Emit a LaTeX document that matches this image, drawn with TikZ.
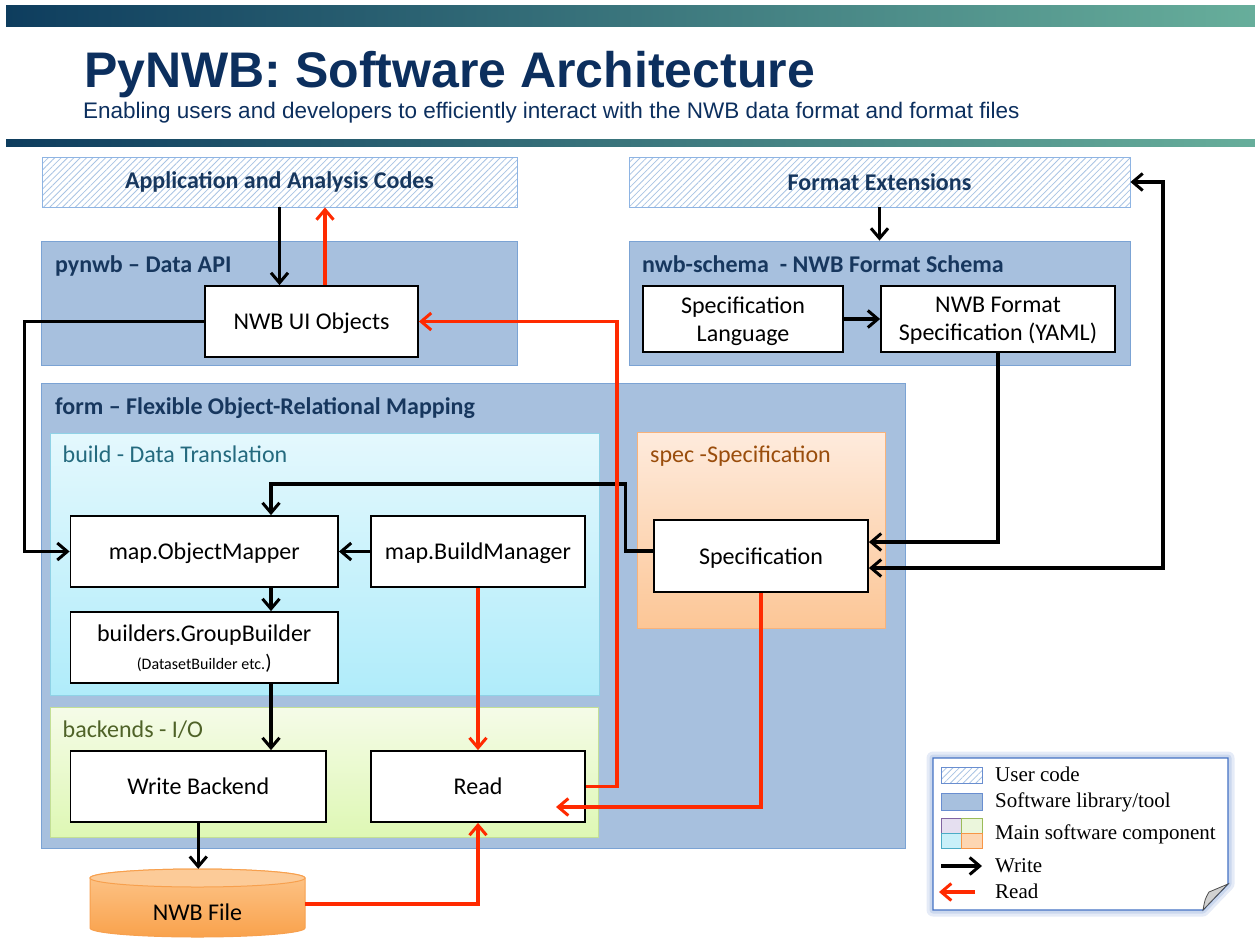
\documentclass[tikz,border=0pt]{standalone}
\usepackage{fontspec}
\setmainfont{Carlito}
\newfontfamily\arialf{Liberation Sans}
\newfontfamily\timesf{Liberation Serif}
\usetikzlibrary{arrows.meta,patterns.meta,calc}
\definecolor{navy}{HTML}{17375E}
\definecolor{titlec}{HTML}{0C2F5E}
\definecolor{barL}{HTML}{0E3D5E}
\definecolor{barR}{HTML}{67AE9B}
\definecolor{libf}{HTML}{A7C0DE}
\definecolor{libb}{HTML}{7BA3D4}
\definecolor{hatch}{HTML}{A9C4E4}
\definecolor{userb}{HTML}{8EB4E3}
\definecolor{buildT}{HTML}{E4F8FD}
\definecolor{buildB}{HTML}{B0ECFA}
\definecolor{buildb}{HTML}{8FD2E6}
\definecolor{buildc}{HTML}{246A7E}
\definecolor{specT}{HTML}{FEEBDD}
\definecolor{specB}{HTML}{FCC696}
\definecolor{specb}{HTML}{F8B27A}
\definecolor{specc}{HTML}{9A4D0C}
\definecolor{backT}{HTML}{F5FBE8}
\definecolor{backB}{HTML}{DEF8B4}
\definecolor{backb}{HTML}{C3DF95}
\definecolor{backc}{HTML}{4F6228}
\definecolor{redc}{HTML}{FF2A00}
\definecolor{cylT}{HTML}{FDC68C}
\definecolor{cylB}{HTML}{F9A24C}
\definecolor{cylTop}{HTML}{FCCB98}
\definecolor{cylb}{HTML}{F7A04E}
\definecolor{legb}{HTML}{4472C4}
\definecolor{qpf}{HTML}{E5DFF0}
\definecolor{qpb}{HTML}{8064A2}
\definecolor{qgf}{HTML}{EBF6DC}
\definecolor{qgb}{HTML}{9BBB59}
\definecolor{qcf}{HTML}{C9F0F9}
\definecolor{qcb}{HTML}{4BACC6}
\definecolor{qof}{HTML}{FDD6B2}
\definecolor{qob}{HTML}{F79646}
\tikzset{
  lib/.style={draw=libb, line width=0.8pt, fill=libf, inner sep=0pt},
  user/.style={draw=userb, line width=0.8pt, preaction={fill=white},
    pattern={Lines[angle=45,distance=4.5pt,line width=0.8pt]}, pattern color=hatch,
    inner sep=0pt, text=navy, font=\bfseries\fontsize{24}{28}\selectfont},
  comp/.style={draw=black, line width=1.8pt, fill=white, align=center,
    font=\fontsize{24}{28}\selectfont, inner sep=0pt, text depth=0pt},
  hdr/.style={anchor=base west, inner sep=0pt, text=navy, font=\bfseries\fontsize{24}{28}\selectfont},
  sub/.style={anchor=base west, inner sep=0pt, font=\fontsize{24}{28}\selectfont},
  leg/.style={anchor=base west, inner sep=0pt, font=\timesf\fontsize{21}{24}\selectfont},
  tip/.tip={Straight Barb[length=10pt,width=17pt,line width=3pt]},
  wa/.style={black, line width=3.2pt, -tip},
  wab/.style={black, line width=3.2pt, tip-tip},
  ra/.style={redc, line width=3.2pt, -tip},
}
\begin{document}
\begin{tikzpicture}[x=1pt,y=-1pt]
\useasboundingbox (0,0) rectangle (1255,938);
% header bars
\shade[left color=barL, right color=barR] (6,5) rectangle (1255,26);
\shade[left color=barL, right color=barR] (6,139) rectangle (1255,146);
\node[anchor=base west, inner sep=0pt, font=\arialf\bfseries\fontsize{50}{60}\selectfont, text=titlec] (title) at (84,87) {PyNWB: Software Architecture};
\node[anchor=base west, inner sep=0pt, font=\arialf\fontsize{22.5}{26}\selectfont, text=titlec] (subtitle) at (83,118) {Enabling users and developers to efficiently interact with the NWB data format and format files};

% user code boxes
\node[user, minimum width=475pt, minimum height=50pt] (app) at (279.5,182) {Application and Analysis Codes};
\node[user, minimum width=501pt, minimum height=50pt] (fmtext) at (879.5,182) {Format Extensions};

% libraries
\node[lib, minimum width=476pt, minimum height=124pt] (pynwb) at (279,303) {};
\node[lib, minimum width=501pt, minimum height=124pt] (schema) at (879.5,303) {};
\node[lib, minimum width=864pt, minimum height=465pt] (form) at (473,615.5) {};
\node[draw=buildb, line width=0.8pt, top color=buildT, bottom color=buildB, inner sep=0pt, minimum width=549pt, minimum height=262pt] (build) at (324.5,564) {};
\node[draw=specb, line width=0.8pt, top color=specT, bottom color=specB, inner sep=0pt, minimum width=248pt, minimum height=196pt] (spec) at (761,530) {};
\node[draw=backb, line width=0.8pt, top color=backT, bottom color=backB, inner sep=0pt, minimum width=548pt, minimum height=130pt] (backends) at (324,772) {};

% labels
\node[hdr] (pynwbl) at (55,272) {pynwb – Data API};
\node[hdr] (schemal) at (642,272) {nwb-schema\ \ - NWB Format Schema};
\node[hdr] (forml) at (55,414) {form – Flexible Object-Relational Mapping};
\node[sub, text=buildc] (buildl) at (62.5,462) {build - Data Translation};
\node[sub, text=specc] (specl) at (650,462) {spec -Specification};
\node[sub, text=backc] (backl) at (62.5,737) {backends - I/O};

% components
\node[comp, minimum width=213pt, minimum height=71pt] (ui) at (311.5,321.5) {NWB UI Objects};
\node[comp, minimum width=200pt, minimum height=66pt] (speclang) at (743,319) {Specification\\Language};
\node[comp, minimum width=234pt, minimum height=66pt] (nwbspec) at (998,319) {NWB Format\\Specification (YAML)};
\node[comp, minimum width=267.5pt, minimum height=71pt] (om) at (204.25,551.5) {map.ObjectMapper};
\node[comp, minimum width=214pt, minimum height=71pt] (bm) at (478,551.5) {map.BuildManager};
\node[comp, minimum width=267.5pt, minimum height=71pt] (gb) at (204.25,647.5) {builders.GroupBuilder\\{\fontsize{16}{16}\selectfont(DatasetBuilder etc.}{\fontsize{21}{21}\selectfont)}};
\node[comp, minimum width=255.5pt, minimum height=71pt] (wb) at (198.25,786.5) {Write Backend};
\node[comp, minimum width=214pt, minimum height=71pt] (rd) at (478,786.5) {Read};
\node[comp, minimum width=214pt, minimum height=72pt] (specn) at (761,556) {Specification};

% NWB file cylinder
\path[top color=cylT, bottom color=cylB, draw=cylb, line width=1pt]
  (90,878) -- (90,928) arc[start angle=180,end angle=360,x radius=107.5pt,y radius=9pt]
  -- (305,878) arc[start angle=0,end angle=180,x radius=107.5pt,y radius=9pt] -- cycle;
\path[fill=cylTop, draw=cylb, line width=1pt] (197.5,878) ellipse[x radius=107.5pt, y radius=9pt];
\node[inner sep=0pt, minimum width=215pt, minimum height=86pt, text depth=0pt, font=\fontsize{24}{28}\selectfont] (file) at (197.5,912) {NWB File};

% write connectors
\draw[wa] (app.south) -- (app.south |- ui.north);
\draw[wa] (fmtext.south) -- (schema.north);
\draw[wa] (speclang.east) -- (nwbspec.west);
\draw[wa] (ui.west) -- ++(-180,0) |- (om.west);
\draw[wa] (nwbspec.south) |- ([yshift=14pt]specn.east);
\draw[wab] ([yshift=-12pt]specn.east) -- ++(294,0) |- (fmtext.east);
\draw[wa] ([yshift=5pt]specn.west) -- ++(-28,0) -- ++(0,-67) -| ([xshift=66.75pt]om.north);
\draw[wa] (bm.west) -- (om.east);
\draw[wa] ([xshift=66.75pt]om.south) -- ([xshift=66.75pt]gb.north);
\draw[wa] ([xshift=66.75pt]gb.south) -- ([xshift=66.75pt]gb.south |- wb.north);
\draw[wa] (wb.south) -- (wb.south |- file.north);

% read connectors
\draw[ra] ([xshift=13.5pt]ui.north) -- ([xshift=13.5pt]ui.north |- app.south);
\draw[ra] (rd.east) -- ++(31,0) |- (ui.east);
\draw[ra] (bm.south) -- (rd.north);
\draw[ra] (specn.south) |- ([shift={(78pt,-20.5pt)}]rd.center);
\draw[ra] ([yshift=8pt]file.east) -| (rd.south);

% legend
\path[draw=legb!14, line width=13pt, line join=round] (933,758) -- (1228,758) -- (1228,884) -- (1203,910) -- (933,910) -- cycle;
\path[draw=legb!28, line width=7pt, line join=round] (933,758) -- (1228,758) -- (1228,884) -- (1203,910) -- (933,910) -- cycle;
\path[fill=white, draw=legb, line width=1.2pt] (933,758) -- (1228,758) -- (1228,884) -- (1203,910) -- (933,910) -- cycle;
\path[fill=black!18, draw=black!70, line width=0.8pt] (1203,910) .. controls (1205,899) .. (1209,892) -- (1228,884) -- cycle;
\path[draw=legb!80, line width=0.8pt, preaction={fill=white}, pattern={Lines[angle=45,distance=4.5pt,line width=0.8pt]}, pattern color=hatch] (941,767) rectangle (982,783);
\path[fill=libf, draw=legb!80, line width=0.8pt] (941,793) rectangle (982,810);
\path[fill=qpf, draw=qpb, line width=0.8pt] (941,818) rectangle (961.5,833);
\path[fill=qgf, draw=qgb, line width=0.8pt] (961.5,818) rectangle (982,833);
\path[fill=qcf, draw=qcb, line width=0.8pt] (941,833) rectangle (961.5,848);
\path[fill=qof, draw=qob, line width=0.8pt] (961.5,833) rectangle (982,848);
\coordinate (lw1) at (941,866);
\coordinate (lw2) at (982,866);
\coordinate (lr1) at (975,892);
\coordinate (lr2) at (939,892);
\draw[wa] (lw1) -- (lw2);
\draw[ra] (lr1) -- (lr2);
\node[leg] (l1) at (995,781) {User code};
\node[leg] (l2) at (995,807) {Software library/tool};
\node[leg] (l3) at (995,839) {Main software component};
\node[leg] (l4) at (995,872) {Write};
\node[leg] (l5) at (995,898) {Read};
\end{tikzpicture}
\end{document}
